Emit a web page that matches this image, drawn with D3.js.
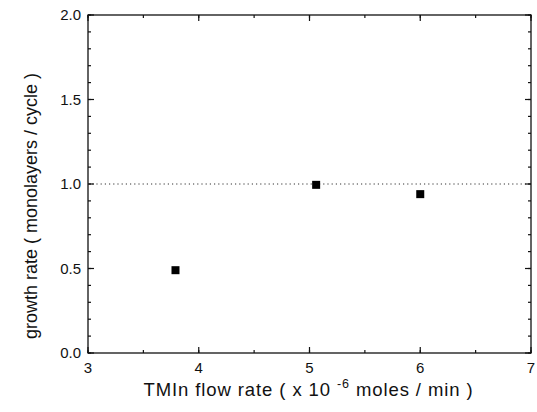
<!DOCTYPE html>
<html>
<head>
<meta charset="utf-8">
<script src="https://cdn.jsdelivr.net/npm/d3@7"></script>
<style>
  body { margin: 0; background: #fff; }
  text { font-family: "Liberation Sans", Arial, sans-serif; fill: #111; }
</style>
</head>
<body>
<div id="chart"></div>
<script>
// data
var flowRate = [3.79, 5.06, 6.0];
var growthRate = [0.49, 0.995, 0.94];
var refLevel = 1.0;
var xTicks = [3, 4, 5, 6, 7];
var yTicks = [0.0, 0.5, 1.0, 1.5, 2.0];

var width = 537, height = 412;
var margins = {top: 15, right: 6, bottom: 59, left: 88};

var svg = d3.select('#chart').append('svg')
  .attr('width', width)
  .attr('height', height);

var x = d3.scaleLinear().domain([3, 7]).range([margins.left, width - margins.right]);
var y = d3.scaleLinear().domain([0, 2]).range([height - margins.bottom, margins.top]);

// frame
svg.append('rect')
  .attr('x', x(3)).attr('y', y(2))
  .attr('width', x(7) - x(3)).attr('height', y(0) - y(2))
  .attr('fill', 'none').attr('stroke', '#111').attr('stroke-width', 1.3);

// inward ticks, mirrored on all four sides
var xMinor = d3.range(3, 7.01, 0.5);
var yMinor = d3.range(0, 2.001, 0.1);

function tickMarks (vals, isX, len) {
  vals.forEach(function (v) {
    if (isX) {
      svg.append('line').attr('x1', x(v)).attr('x2', x(v)).attr('y1', y(0)).attr('y2', y(0) - len)
        .attr('stroke', '#111').attr('stroke-width', 1.2);
      svg.append('line').attr('x1', x(v)).attr('x2', x(v)).attr('y1', y(2)).attr('y2', y(2) + len)
        .attr('stroke', '#111').attr('stroke-width', 1.2);
    } else {
      svg.append('line').attr('y1', y(v)).attr('y2', y(v)).attr('x1', x(3)).attr('x2', x(3) + len)
        .attr('stroke', '#111').attr('stroke-width', 1.2);
      svg.append('line').attr('y1', y(v)).attr('y2', y(v)).attr('x1', x(7)).attr('x2', x(7) - len)
        .attr('stroke', '#111').attr('stroke-width', 1.2);
    }
  });
}
tickMarks(xMinor, true, 3);
tickMarks(xTicks, true, 6);
tickMarks(yMinor, false, 3);
tickMarks(yTicks, false, 6);

// tick labels
svg.append('g').selectAll('text').data(xTicks).join('text')
  .attr('x', function (d) { return x(d); })
  .attr('y', y(0) + 20)
  .attr('text-anchor', 'middle')
  .attr('font-size', 15)
  .text(function (d) { return d; });

svg.append('g').selectAll('text').data(yTicks).join('text')
  .attr('x', x(3) - 7)
  .attr('y', function (d) { return y(d) + 5; })
  .attr('text-anchor', 'end')
  .attr('font-size', 15)
  .text(function (d) { return d.toFixed(1); });

// reference line
svg.append('line')
  .attr('x1', x(3)).attr('x2', x(7))
  .attr('y1', y(refLevel)).attr('y2', y(refLevel))
  .attr('stroke', '#333').attr('stroke-width', 1)
  .attr('stroke-dasharray', '1.2,3');

// points
var pts = flowRate.map(function (d, i) { return [d, growthRate[i]]; });
svg.append('g').selectAll('rect').data(pts).join('rect')
  .attr('x', function (d) { return x(d[0]) - 4; })
  .attr('y', function (d) { return y(d[1]) - 4; })
  .attr('width', 8).attr('height', 8)
  .attr('fill', '#000');

// axis titles
var xt = svg.append('text')
  .attr('x', (x(3) + x(7)) / 2 - 1)
  .attr('y', 396)
  .attr('text-anchor', 'middle')
  .attr('font-size', 18.5)
  .attr('letter-spacing', 0.9);
xt.append('tspan').text('TMIn flow rate ( x 10 ');
xt.append('tspan').attr('dy', -8).attr('font-size', 12.5).text('-6');
xt.append('tspan').attr('dy', 8).text(' moles / min )');

svg.append('text')
  .attr('transform', 'translate(37,' + ((y(0) + y(2)) / 2 + 22) + ') rotate(-90)')
  .attr('text-anchor', 'middle')
  .attr('font-size', 18)
  .text('growth rate ( monolayers / cycle )');
</script>
</body>
</html>
